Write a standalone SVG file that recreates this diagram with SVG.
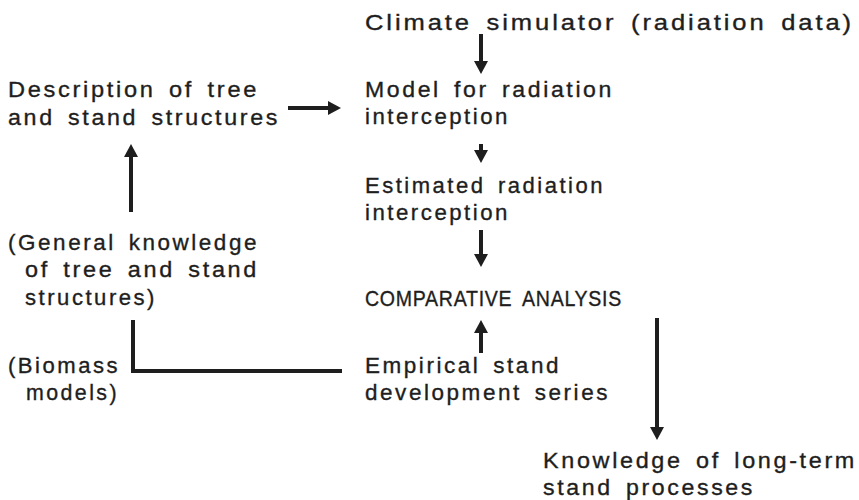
<svg xmlns="http://www.w3.org/2000/svg" width="859" height="500" viewBox="0 0 859 500">
  <defs>
    <style>
      text { font-family: "Liberation Sans", Arial, sans-serif; font-size: 22px; letter-spacing: 2.5px; word-spacing: 4px; fill: #1e1e1e; stroke: #1e1e1e; stroke-width: 0.35px; }
      text.caps { font-size: 21.5px; letter-spacing: 0.8px; word-spacing: 5px; }
      .edge { stroke: #1e1e1e; stroke-width: 4; fill: none; }
    </style>
    <marker id="head" markerUnits="userSpaceOnUse" markerWidth="14" markerHeight="14" refX="0" refY="7" orient="auto" overflow="visible">
      <path d="M0,0 L13,7 L0,14 Z" fill="#1e1e1e"/>
    </marker>
  </defs>
  <rect width="859" height="500" fill="#ffffff"/>

  <g id="climate">
    <text x="365" y="30" textLength="489" lengthAdjust="spacingAndGlyphs">Climate simulator (radiation data)</text>
  </g>
  <g id="model">
    <text x="365" y="97" textLength="249" lengthAdjust="spacingAndGlyphs">Model for radiation</text>
    <text x="365" y="124" textLength="145" lengthAdjust="spacingAndGlyphs">interception</text>
  </g>
  <g id="description">
    <text x="8" y="97" textLength="251" lengthAdjust="spacingAndGlyphs">Description of tree</text>
    <text x="8" y="125" textLength="272" lengthAdjust="spacingAndGlyphs">and stand structures</text>
  </g>
  <g id="estimated">
    <text x="365" y="193" textLength="240" lengthAdjust="spacingAndGlyphs">Estimated radiation</text>
    <text x="365" y="220" textLength="145" lengthAdjust="spacingAndGlyphs">interception</text>
  </g>
  <g id="general">
    <text x="8" y="250" textLength="251" lengthAdjust="spacingAndGlyphs">(General knowledge</text>
    <text x="25" y="277" textLength="234" lengthAdjust="spacingAndGlyphs">of tree and stand</text>
    <text x="25" y="305" textLength="132" lengthAdjust="spacingAndGlyphs">structures)</text>
  </g>
  <g id="comparative">
    <text class="caps" x="365" y="306" textLength="257" lengthAdjust="spacingAndGlyphs">COMPARATIVE ANALYSIS</text>
  </g>
  <g id="biomass">
    <text x="8" y="373" textLength="112" lengthAdjust="spacingAndGlyphs">(Biomass</text>
    <text x="26" y="400" textLength="93" lengthAdjust="spacingAndGlyphs">models)</text>
  </g>
  <g id="empirical">
    <text x="365" y="373" textLength="196" lengthAdjust="spacingAndGlyphs">Empirical stand</text>
    <text x="365" y="400" textLength="245" lengthAdjust="spacingAndGlyphs">development series</text>
  </g>
  <g id="knowledge">
    <text x="543" y="468" textLength="314" lengthAdjust="spacingAndGlyphs">Knowledge of long-term</text>
    <text x="543" y="495" textLength="212" lengthAdjust="spacingAndGlyphs">stand processes</text>
  </g>

  <g id="connectors">
    <line class="edge" x1="481" y1="34" x2="481" y2="61" marker-end="url(#head)"/>
    <line class="edge" x1="288" y1="108" x2="328" y2="108" marker-end="url(#head)"/>
    <line class="edge" x1="481" y1="144" x2="481" y2="150" marker-end="url(#head)"/>
    <line class="edge" x1="481" y1="230" x2="481" y2="254" marker-end="url(#head)"/>
    <line class="edge" x1="131" y1="212" x2="131" y2="157" marker-end="url(#head)"/>
    <path class="edge" d="M133,320 V371 H342"/>
    <line class="edge" x1="481" y1="353" x2="481" y2="333" marker-end="url(#head)"/>
    <line class="edge" x1="657" y1="318" x2="657" y2="427" marker-end="url(#head)"/>
  </g>
</svg>
